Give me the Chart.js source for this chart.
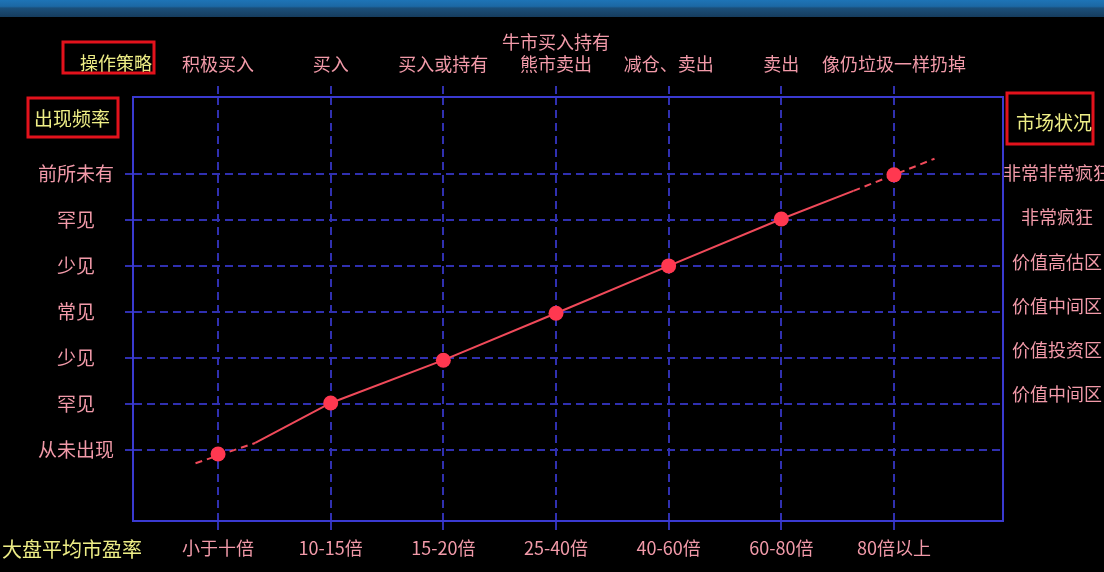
<!DOCTYPE html>
<html>
<head>
<meta charset="utf-8">
<title>大盘平均市盈率</title>
<script src="https://cdn.jsdelivr.net/npm/chart.js@4/dist/chart.umd.min.js"></script>
<style>
  html, body { margin: 0; padding: 0; background: #000; }
  #wrap { width: 1104px; height: 572px; }
</style>
</head>
<body>
<div id="wrap"><canvas id="chart" width="1104" height="572"></canvas></div>
<script>
// --- data ---
const peRanges = ['小于十倍', '10-15倍', '15-20倍', '25-40倍', '40-60倍', '60-80倍', '80倍以上'];
const strategies = ['积极买入', '买入', '买入或持有', ['牛市买入持有', '熊市卖出'], '减仓、卖出', '卖出', '像仍垃圾一样扔掉'];
const frequencies = ['从未出现', '罕见', '少见', '常见', '少见', '罕见', '前所未有'];
const marketStates = ['', '价值中间区', '价值投资区', '价值中间区', '价值高估区', '非常疯狂', '非常非常疯狂'];
const levels = [-0.09, 1.02, 1.95, 2.97, 4.0, 5.02, 5.98];

// where the drawn line starts/ends and where its dashes turn solid
const leadStart = { x: -0.2, y: -0.29 };
const solidStart = { x: 0.33, y: 0.15 };
const solidEnd = { x: 5.64, y: 5.63 };
const tailEnd = { x: 6.36, y: 6.33 };

const PINK = '#f29aa9';
const YELLOW = '#eeee86';
const RED_BOX = '#e3121c';
const LINE_RED = '#f04a5a';
const DOT_RED = '#ff3850';
const GRID = '#3030b0';
const FRAME = '#3a3ad0';
const FONT = '"Noto Sans CJK SC", "Noto Sans", sans-serif';

const idx = peRanges.map((_, i) => i);
const markers = idx.map((i) => ({ x: i, y: levels[i] }));
const solidLine = [solidStart, ...idx.slice(1, 6).map((i) => ({ x: i, y: levels[i] })), solidEnd];
const leadLine = [leadStart, solidStart];
const tailLine = [solidEnd, tailEnd];

const fixTicks = (values) => (scale) => {
  scale.ticks = values.map((v) => ({ value: v }));
};

const backdrop = {
  id: 'backdrop',
  beforeDraw(chart) {
    const { ctx, width, height } = chart;
    ctx.save();
    ctx.fillStyle = '#000';
    ctx.fillRect(0, 0, width, height);
    const g = ctx.createLinearGradient(0, 0, 0, 18);
    g.addColorStop(0, '#1e74b6');
    g.addColorStop(0.35, '#1c68a4');
    g.addColorStop(0.45, '#1b4f7a');
    g.addColorStop(1, '#153a5a');
    ctx.fillStyle = g;
    ctx.fillRect(0, 0, width, 17);
    ctx.restore();
  },
};

function boxedLabel(ctx, text, cx, cy, box) {
  if (box) {
    ctx.strokeStyle = RED_BOX;
    ctx.lineWidth = 3;
    ctx.strokeRect(box[0], box[1], box[2], box[3]);
  }
  ctx.fillStyle = YELLOW;
  ctx.fillText(text, cx, cy);
}

const titles = {
  id: 'titles',
  afterDraw(chart) {
    const { ctx } = chart;
    ctx.save();
    ctx.textAlign = 'center';
    ctx.textBaseline = 'middle';
    ctx.font = `18px ${FONT}`;
    boxedLabel(ctx, '操作策略', 116, 63, [63, 42, 91, 31]);
    ctx.font = `19px ${FONT}`;
    boxedLabel(ctx, '出现频率', 72, 119, [28, 98, 90, 39]);
    ctx.font = `19px ${FONT}`;
    boxedLabel(ctx, '市场状况', 1054, 123, [1007, 93, 86, 51]);
    ctx.font = `20px ${FONT}`;
    boxedLabel(ctx, '大盘平均市盈率', 72, 549, null);
    ctx.restore();
  },
};

new Chart(document.getElementById('chart'), {
  type: 'line',
  data: {
    datasets: [
      {
        data: markers,
        showLine: false,
        pointRadius: 7.5,
        pointBackgroundColor: DOT_RED,
        pointBorderWidth: 0,
        xAxisID: 'x',
        yAxisID: 'y',
      },
      {
        data: solidLine,
        borderColor: LINE_RED,
        borderWidth: 2,
        pointRadius: 0,
        tension: 0,
        xAxisID: 'x',
        yAxisID: 'y',
      },
      {
        data: leadLine,
        borderColor: LINE_RED,
        borderWidth: 2,
        borderDash: [7, 5],
        pointRadius: 0,
        xAxisID: 'x',
        yAxisID: 'y',
      },
      {
        data: tailLine,
        borderColor: LINE_RED,
        borderWidth: 2,
        borderDash: [7, 5],
        pointRadius: 0,
        xAxisID: 'x',
        yAxisID: 'y',
      },
    ],
  },
  options: {
    responsive: false,
    animation: false,
    events: [],
    layout: { padding: 0 },
    plugins: { legend: { display: false }, tooltip: { enabled: false } },
    scales: {
      x: {
        type: 'linear',
        position: 'bottom',
        min: -0.755,
        max: 6.968,
        afterBuildTicks: fixTicks(idx),
        afterFit: (s) => { s.height = 51; },
        grid: {
          color: GRID,
          lineWidth: 2,
          tickLength: 9,
          tickColor: GRID,
          tickWidth: 2,
          tickBorderDash: [8, 5],
        },
        border: { display: true, color: FRAME, width: 2, dash: [8, 5] },
        ticks: {
          color: PINK,
          font: { family: FONT, size: 18 },
          padding: 7,
          autoSkip: false,
          maxRotation: 0,
          minRotation: 0,
          callback: (v) => peRanges[v],
        },
      },
      x2: {
        type: 'linear',
        position: 'top',
        min: -0.755,
        max: 6.968,
        afterBuildTicks: fixTicks(idx),
        afterFit: (s) => { s.height = 97; },
        grid: {
          drawOnChartArea: false,
          color: GRID,
          lineWidth: 2,
          tickLength: 11,
          tickColor: GRID,
          tickWidth: 2,
          tickBorderDash: [8, 5],
        },
        border: { display: true, color: FRAME, width: 2 },
        ticks: {
          color: PINK,
          font: { family: FONT, size: 18 },
          padding: 11,
          autoSkip: false,
          maxRotation: 0,
          minRotation: 0,
          callback: (v) => strategies[v],
        },
      },
      y: {
        type: 'linear',
        position: 'left',
        min: -1.546,
        max: 7.672,
        afterBuildTicks: fixTicks(idx),
        afterFit: (s) => { s.width = 133; },
        grid: {
          color: GRID,
          lineWidth: 2,
          tickLength: 8,
          tickColor: GRID,
          tickWidth: 2,
          tickBorderDash: [8, 5],
        },
        border: { display: true, color: FRAME, width: 2, dash: [8, 5] },
        ticks: {
          color: PINK,
          font: { family: FONT, size: 19 },
          padding: 11,
          crossAlign: 'center',
          autoSkip: false,
          callback: (v) => frequencies[v],
        },
      },
      y2: {
        type: 'linear',
        position: 'right',
        min: -1.857,
        max: 7.72,
        afterBuildTicks: fixTicks(idx.slice(1)),
        afterFit: (s) => { s.width = 101; },
        grid: { display: false, drawTicks: false },
        border: { display: true, color: FRAME, width: 2 },
        ticks: {
          color: PINK,
          font: { family: FONT, size: 18 },
          padding: 0,
          crossAlign: 'center',
          autoSkip: false,
          callback: (v) => marketStates[v],
        },
      },
    },
  },
  plugins: [backdrop, titles],
});
</script>
</body>
</html>
